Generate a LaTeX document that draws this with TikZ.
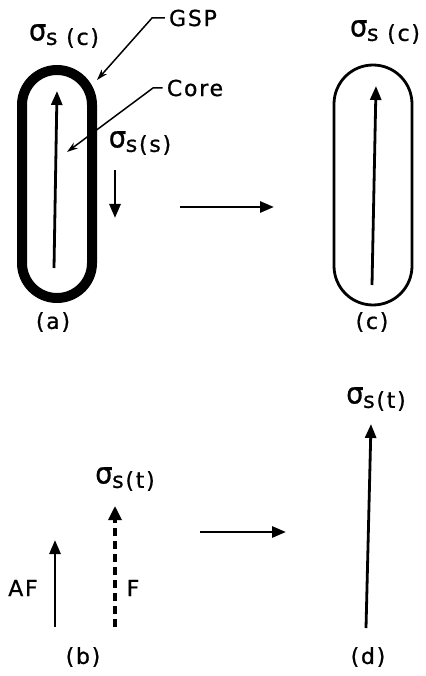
\documentclass[tikz,border=0pt]{standalone}
\usepackage{fontspec}
\setmainfont{DejaVu Sans}
\newfontfamily\lblfont[LetterSpace=8,FakeBold=0.8]{DejaVu Sans}
\usetikzlibrary{arrows.meta}
\newcommand{\sigs}{\raisebox{0.2em}{\scalebox{1.25}[1.35]{σ}}\hspace{-0.02em}s}
\begin{document}
\begin{tikzpicture}[x=1pt,y=-1pt,
  lbl/.style={font=\lblfont\fontsize{22}{24}\selectfont, inner sep=0pt},
  arr/.style={line width=2.8pt, -{Triangle[length=14pt,width=11pt]}},
  dasharr/.style={line width=3.2pt, dash pattern=on 8pt off 5pt, -{Triangle[length=14pt,width=13pt]}},
  lead/.style={line width=1.5pt, -{Stealth[length=11pt,width=7pt]}},
  capthick/.style={line width=10pt, rounded corners=35pt},
  capthin/.style={line width=2.8pt, rounded corners=39pt}]
\useasboundingbox (0,0) rectangle (425,676);

% (a)
\draw[capthick] (22,70) rectangle (92,298);
\coordinate (a1) at (54,268); \coordinate (a2) at (57,91);
\draw[arr] (a1) -- (a2);
\node[lbl] (sca) at (64,36) {\sigs\ (c)};
\node[lbl] (gsp) at (193,18) {GSP};
\coordinate (gspk) at (152,18); \coordinate (gspt) at (97,80);
\draw[lead] ([xshift=-4pt]gsp.west) -- (gspk) -- (gspt);
\node[lbl] (core) at (195,88) {Core};
\coordinate (corek) at (153,88); \coordinate (coret) at (67,152);
\draw[lead] ([xshift=-4pt]core.west) -- (corek) -- (coret);
\node[lbl] (sss) at (140,143) {\sigs(s)};
\coordinate (s1) at (115,170); \coordinate (s2) at (115,218);
\draw[arr] (s1) -- (s2);
\node[lbl] (la) at (53,322) {(a)};

% arrow a -> c
\coordinate (h1) at (180,207); \coordinate (h2) at (274,207);
\draw[arr] (h1) -- (h2);

% (c)
\draw[capthin] (334,65) rectangle (412,305);
\coordinate (c1) at (372,285); \coordinate (c2) at (376,86);
\draw[arr] (c1) -- (c2);
\node[lbl] (scc) at (385,32) {\sigs\ (c)};
\node[lbl] (lc) at (372,322) {(c)};

% (b)
\coordinate (af1) at (55,627); \coordinate (af2) at (55,540);
\draw[arr] (af1) -- (af2);
\coordinate (f1) at (115,627); \coordinate (f2) at (115,506);
\draw[dasharr] (f1) -- (f2);
\node[lbl] (stb) at (125,479) {\sigs(t)};
\node[lbl] (af) at (23,588) {AF};
\node[lbl] (f) at (133,588) {F};
\node[lbl] (lb) at (83,657) {(b)};

% arrow b -> d
\coordinate (g1) at (200,532); \coordinate (g2) at (286,532);
\draw[arr] (g1) -- (g2);

% (d)
\coordinate (d1) at (366,628); \coordinate (d2) at (371,424);
\draw[arr] (d1) -- (d2);
\node[lbl] (std) at (376,399) {\sigs(t)};
\node[lbl] (ld) at (368,657) {(d)};
\end{tikzpicture}
\end{document}
